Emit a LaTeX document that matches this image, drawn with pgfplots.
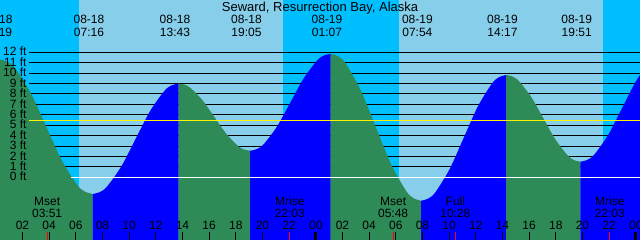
\documentclass[border=0pt]{standalone}
\usepackage{pgfplots}
\pgfplotsset{compat=1.18}
\usepackage{fontspec}
\setmainfont{Liberation Sans}
\definecolor{night}{HTML}{00BFFF}
\definecolor{day}{HTML}{87CEEB}
\definecolor{ebb}{HTML}{2E8B57}
\definecolor{flood}{HTML}{0000FF}
\begin{document}
\begin{tikzpicture}[every node/.style={font=\fontsize{12bp}{14bp}\selectfont, inner sep=0pt, text=black}]
\begin{axis}[width=640bp, height=240bp, scale only axis,
  xmin=0.315, xmax=48.315, ymin=-6.02, ymax=17.02,
  axis lines=none, ticks=none, clip=true]
\coordinate (SW) at (rel axis cs:0,0);
\coordinate (NE) at (rel axis cs:1,1);
% sky: night / day
\fill[night] (axis cs:-1,-7) rectangle (axis cs:50,18);
\fill[day] (axis cs:6.24,-7) rectangle (axis cs:21.54,18);
\fill[day] (axis cs:30.24,-7) rectangle (axis cs:45.54,18);
% grid lines (behind water)
\pgfplotsinvokeforeach{1,...,12}{\draw[black, line width=1bp] (axis cs:2.49,#1) -- (axis cs:49,#1);}
% tide fills: falling (green), rising (blue)
\addplot[draw=none, fill=ebb, smooth] coordinates {(0.3,11.3) (0.881,11.08) (1.461,10.436) (2.622,8.075) (3.783,4.85) (4.944,1.625) (6.106,-0.736) (6.686,-1.38) (7.267,-1.6)} -- (axis cs:7.267,-7) -- (axis cs:0.3,-7) -- cycle;
\addplot[draw=none, fill=flood, smooth] coordinates {(7.267,-1.6) (7.805,-1.419) (8.342,-0.89) (9.417,1.05) (10.492,3.7) (11.567,6.35) (12.642,8.29) (13.179,8.819) (13.717,9.0)} -- (axis cs:13.717,-7) -- (axis cs:7.267,-7) -- cycle;
\addplot[draw=none, fill=ebb, smooth] coordinates {(13.717,9.0) (14.164,8.89) (14.611,8.568) (15.506,7.388) (16.4,5.775) (17.294,4.163) (18.189,2.982) (18.636,2.66) (19.083,2.55)} -- (axis cs:19.083,-7) -- (axis cs:13.717,-7) -- cycle;
\addplot[draw=none, fill=flood, smooth] coordinates {(19.083,2.55) (19.586,2.709) (20.089,3.173) (21.094,4.875) (22.1,7.2) (23.106,9.525) (24.111,11.227) (24.614,11.691) (25.117,11.85)} -- (axis cs:25.117,-7) -- (axis cs:19.083,-7) -- cycle;
\addplot[draw=none, fill=ebb, smooth] coordinates {(25.117,11.85) (25.682,11.61) (26.247,10.905) (27.378,8.325) (28.508,4.8) (29.639,1.275) (30.77,-1.305) (31.335,-2.01) (31.9,-2.25)} -- (axis cs:31.9,-7) -- (axis cs:25.117,-7) -- cycle;
\addplot[draw=none, fill=flood, smooth] coordinates {(31.9,-2.25) (32.432,-2.044) (32.964,-1.441) (34.028,0.768) (35.092,3.785) (36.155,6.803) (37.219,9.011) (37.751,9.614) (38.283,9.82)} -- (axis cs:38.283,-7) -- (axis cs:31.9,-7) -- cycle;
\addplot[draw=none, fill=ebb, smooth] coordinates {(38.283,9.82) (38.747,9.678) (39.211,9.263) (40.139,7.74) (41.067,5.66) (41.994,3.58) (42.922,2.057) (43.386,1.642) (43.85,1.5)} -- (axis cs:43.85,-7) -- (axis cs:38.283,-7) -- cycle;
\addplot[draw=none, fill=flood, smooth] coordinates {(43.85,1.5) (44.371,1.676) (44.892,2.19) (45.933,4.075) (46.975,6.65) (48.017,9.225) (49.058,11.11) (49.579,11.624) (50.1,11.8)} -- (axis cs:50.1,-7) -- (axis cs:43.85,-7) -- cycle;
% datum and mean lines
\draw[white, line width=1bp] (axis cs:5.64,0) -- (axis cs:49,0);
\draw[yellow, line width=1bp] (axis cs:2.49,5.47) -- (axis cs:49,5.47);
% level labels
\pgfplotsinvokeforeach{0,...,12}{\node[anchor=base east] at (axis cs:2.32,#1-0.355) {#1 ft};}
% title
\node[anchor=base, font=\fontsize{13bp}{15bp}\selectfont] at (axis cs:24.315,15.9) {Seward, Resurrection Bay, Alaska};
% tide event labels
\node[anchor=base] at (axis cs:0.1,14.72) {08-18}; \node[anchor=base] at (axis cs:0.1,13.56) {00:19};
\node[anchor=base] at (axis cs:6.99,14.72) {08-18}; \node[anchor=base] at (axis cs:6.99,13.56) {07:16};
\node[anchor=base] at (axis cs:13.44,14.72) {08-18}; \node[anchor=base] at (axis cs:13.44,13.56) {13:43};
\node[anchor=base] at (axis cs:18.8,14.72) {08-18}; \node[anchor=base] at (axis cs:18.8,13.56) {19:05};
\node[anchor=base] at (axis cs:24.84,14.72) {08-19}; \node[anchor=base] at (axis cs:24.84,13.56) {01:07};
\node[anchor=base] at (axis cs:31.62,14.72) {08-19}; \node[anchor=base] at (axis cs:31.62,13.56) {07:54};
\node[anchor=base] at (axis cs:38.0,14.72) {08-19}; \node[anchor=base] at (axis cs:38.0,13.56) {14:17};
\node[anchor=base] at (axis cs:43.57,14.72) {08-19}; \node[anchor=base] at (axis cs:43.57,13.56) {19:51};
% moon events
\node[anchor=base] at (axis cs:3.85,-2.755) {Mset}; \node[anchor=base] at (axis cs:3.85,-3.84) {03:51};
\node[anchor=base] at (axis cs:22.05,-2.755) {Mrise}; \node[anchor=base] at (axis cs:22.05,-3.84) {22:03};
\node[anchor=base] at (axis cs:29.8,-2.755) {Mset}; \node[anchor=base] at (axis cs:29.8,-3.84) {05:48};
\node[anchor=base] at (axis cs:34.47,-2.755) {Full}; \node[anchor=base] at (axis cs:34.47,-3.84) {10:28};
\node[anchor=base] at (axis cs:46.05,-2.755) {Mrise}; \node[anchor=base] at (axis cs:46.05,-3.84) {22:03};
% hour ticks
\pgfplotsinvokeforeach{2,4,...,46}{\draw[black, line width=1bp] (axis cs:#1,-5.22) -- (axis cs:#1,-6.5);}
\draw[black, line width=3bp] (axis cs:24,-5.22) -- (axis cs:24,-6.5);
\draw[black, line width=3bp] (axis cs:48,-5.22) -- (axis cs:48,-6.5);
\pgfplotsinvokeforeach{3.85,22.05,29.8,34.47,46.05}{\draw[red, line width=1bp] (axis cs:#1,-5.22) -- (axis cs:#1,-6.5);}
% hour labels
\node[anchor=base] at (axis cs:2,-4.99) {02};
\node[anchor=base] at (axis cs:4,-4.99) {04};
\node[anchor=base] at (axis cs:6,-4.99) {06};
\node[anchor=base] at (axis cs:8,-4.99) {08};
\node[anchor=base] at (axis cs:10,-4.99) {10};
\node[anchor=base] at (axis cs:12,-4.99) {12};
\node[anchor=base] at (axis cs:14,-4.99) {14};
\node[anchor=base] at (axis cs:16,-4.99) {16};
\node[anchor=base] at (axis cs:18,-4.99) {18};
\node[anchor=base] at (axis cs:20,-4.99) {20};
\node[anchor=base] at (axis cs:22,-4.99) {22};
\node[anchor=base] at (axis cs:24,-4.99) {00};
\node[anchor=base] at (axis cs:26,-4.99) {02};
\node[anchor=base] at (axis cs:28,-4.99) {04};
\node[anchor=base] at (axis cs:30,-4.99) {06};
\node[anchor=base] at (axis cs:32,-4.99) {08};
\node[anchor=base] at (axis cs:34,-4.99) {10};
\node[anchor=base] at (axis cs:36,-4.99) {12};
\node[anchor=base] at (axis cs:38,-4.99) {14};
\node[anchor=base] at (axis cs:40,-4.99) {16};
\node[anchor=base] at (axis cs:42,-4.99) {18};
\node[anchor=base] at (axis cs:44,-4.99) {20};
\node[anchor=base] at (axis cs:46,-4.99) {22};
\node[anchor=base] at (axis cs:48,-4.99) {00};
\end{axis}
\pgfresetboundingbox
\path[use as bounding box] (SW) rectangle (NE);
\end{tikzpicture}
\end{document}
